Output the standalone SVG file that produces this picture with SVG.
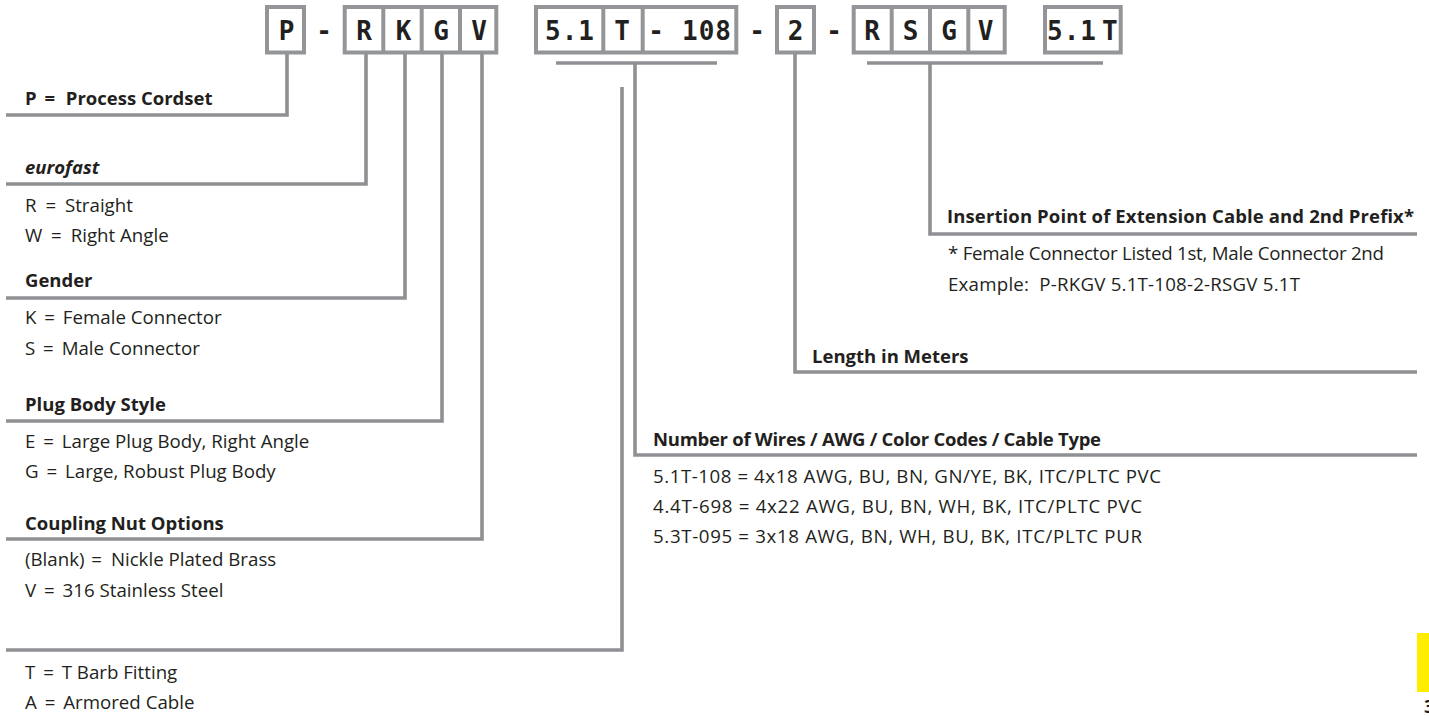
<svg xmlns="http://www.w3.org/2000/svg" width="1429" height="719" viewBox="0 0 1429 719">
<style>
.box{fill:#ffffff;stroke:#939598;stroke-width:4}
.div{stroke:#939598;stroke-width:4}
.code{font-family:"DejaVu Sans Mono",monospace;font-weight:bold;font-size:26px;fill:#231f20}
.cm{text-anchor:middle}
.cs{letter-spacing:1px}
.conn path{fill:none;stroke:#8f9093;stroke-width:3.6;stroke-linejoin:miter;stroke-linecap:butt}
.h{font-family:"Open Sans",sans-serif;font-weight:bold;font-size:18.5px;fill:#231f20}
.t{font-family:"Open Sans",sans-serif;font-size:18.7px;fill:#231f20}
.i{font-style:italic}
</style>
<rect x="0" y="0" width="1429" height="719" fill="#ffffff"/>

<g id="code-boxes">
  <g id="box-p">
    <rect class="box" x="267" y="7" width="37" height="45.5"/>
    <text class="code cm" x="286.5" y="40">P</text>
  </g>
  <text class="code cm" x="324" y="40">-</text>
  <g id="box-rkgv">
    <rect class="box" x="344.7" y="7" width="151.6" height="45.5"/>
    <line class="div" x1="383.3" y1="7" x2="383.3" y2="52.5"/>
    <line class="div" x1="421.7" y1="7" x2="421.7" y2="52.5"/>
    <line class="div" x1="460" y1="7" x2="460" y2="52.5"/>
    <text class="code cm" x="364" y="40">R</text>
    <text class="code cm" x="403.5" y="40">K</text>
    <text class="code cm" x="441" y="40">G</text>
    <text class="code cm" x="479" y="40">V</text>
  </g>
  <g id="box-cable">
    <rect class="box" x="536" y="7" width="200.3" height="45.5"/>
    <line class="div" x1="603.3" y1="7" x2="603.3" y2="52.5"/>
    <line class="div" x1="642.7" y1="7" x2="642.7" y2="52.5"/>
    <text class="code cs" x="545" y="40">5.1</text>
    <text class="code cm" x="622" y="40">T</text>
    <text class="code cm" x="656" y="40">-</text>
    <text class="code cs" x="682" y="40">108</text>
  </g>
  <text class="code cm" x="757" y="40">-</text>
  <g id="box-length">
    <rect class="box" x="777" y="7" width="37" height="45.5"/>
    <text class="code cm" x="795.5" y="40">2</text>
  </g>
  <text class="code cm" x="834" y="40">-</text>
  <g id="box-rsgv">
    <rect class="box" x="853.7" y="7" width="151" height="45.5"/>
    <line class="div" x1="891.7" y1="7" x2="891.7" y2="52.5"/>
    <line class="div" x1="930" y1="7" x2="930" y2="52.5"/>
    <line class="div" x1="968.3" y1="7" x2="968.3" y2="52.5"/>
    <text class="code cm" x="872" y="40">R</text>
    <text class="code cm" x="910.5" y="40">S</text>
    <text class="code cm" x="949" y="40">G</text>
    <text class="code cm" x="985.5" y="40">V</text>
  </g>
  <g id="box-51t">
    <rect class="box" x="1045" y="7" width="75.7" height="45.5"/>
    <text class="code cs" x="1047" y="40">5.1<tspan dx="5">T</tspan></text>
  </g>
</g>

<g class="conn" id="connectors">
  <path d="M287 54 V115 H6"/>
  <path d="M366 54 V184 H6"/>
  <path d="M405 54 V298 H6"/>
  <path d="M442 54 V421 H6"/>
  <path d="M482 54 V539 H6"/>
  <path d="M556 63 H717"/>
  <path d="M635 63 V455 H1417"/>
  <path d="M622 87 V650 H6"/>
  <path d="M795 54 V372 H1417"/>
  <path d="M867 63 H1103"/>
  <path d="M930 63 V234 H1417"/>
</g>

<g id="node-process">
  <text class="h" x="25" y="105">P<tspan dx="3"> =</tspan><tspan dx="6"> Process Cordset</tspan></text>
</g>
<g id="node-eurofast">
  <text class="h i" x="25" y="174">eurofast</text>
  <text class="t" x="25" y="212">R<tspan dx="4"> =</tspan><tspan dx="4"> Straight</tspan></text>
  <text class="t" x="25" y="242">W<tspan dx="4"> =</tspan><tspan dx="4"> Right Angle</tspan></text>
</g>
<g id="node-gender">
  <text class="h" x="25" y="287">Gender</text>
  <text class="t" x="25" y="324">K<tspan dx="3"> =</tspan><tspan dx="3"> Female Connector</tspan></text>
  <text class="t" x="25" y="355">S<tspan dx="3"> =</tspan><tspan dx="3"> Male Connector</tspan></text>
</g>
<g id="node-plug">
  <text class="h" x="25" y="411">Plug Body Style</text>
  <text class="t" x="25" y="448">E<tspan dx="3"> =</tspan><tspan dx="3"> Large Plug Body, Right Angle</tspan></text>
  <text class="t" x="25" y="478">G<tspan dx="3"> =</tspan><tspan dx="3"> Large, Robust Plug Body</tspan></text>
</g>
<g id="node-coupling">
  <text class="h" x="25" y="530">Coupling Nut Options</text>
  <text class="t" x="25" y="566">(Blank)<tspan dx="2"> =</tspan><tspan dx="4"> Nickle Plated Brass</tspan></text>
  <text class="t" x="25" y="597">V<tspan dx="3"> =</tspan><tspan dx="3"> 316 Stainless Steel</tspan></text>
</g>
<g id="node-barb">
  <text class="t" x="25" y="679">T<tspan dx="3"> =</tspan><tspan dx="3"> T Barb Fitting</tspan></text>
  <text class="t" x="25" y="709">A<tspan dx="3"> =</tspan><tspan dx="3"> Armored Cable</tspan></text>
</g>
<g id="node-insertion">
  <text class="h" x="947" y="223" textLength="467" lengthAdjust="spacing">Insertion Point of Extension Cable and 2nd Prefix*</text>
  <text class="t" x="948" y="260" textLength="436" lengthAdjust="spacing">* Female Connector Listed 1st, Male Connector 2nd</text>
  <text class="t" x="948" y="291" xml:space="preserve" textLength="352" lengthAdjust="spacing">Example:  P-RKGV 5.1T-108-2-RSGV 5.1T</text>
</g>
<g id="node-length">
  <text class="h" x="812" y="363">Length in Meters</text>
</g>
<g id="node-wires">
  <text class="h" x="653" y="446" textLength="448" lengthAdjust="spacing">Number of Wires / AWG / Color Codes / Cable Type</text>
  <text class="t" x="653" y="483" textLength="508" lengthAdjust="spacing">5.1T-108 = 4x18 AWG, BU, BN, GN/YE, BK, ITC/PLTC PVC</text>
  <text class="t" x="653" y="513" textLength="489" lengthAdjust="spacing">4.4T-698 = 4x22 AWG, BU, BN, WH, BK, ITC/PLTC PVC</text>
  <text class="t" x="653" y="543" textLength="489" lengthAdjust="spacing">5.3T-095 = 3x18 AWG, BN, WH, BU, BK, ITC/PLTC PUR</text>
</g>

<rect x="1417" y="633" width="12" height="59" fill="#ffed00"/>
<text class="h" x="1424" y="713" font-size="16">3</text>
</svg>
